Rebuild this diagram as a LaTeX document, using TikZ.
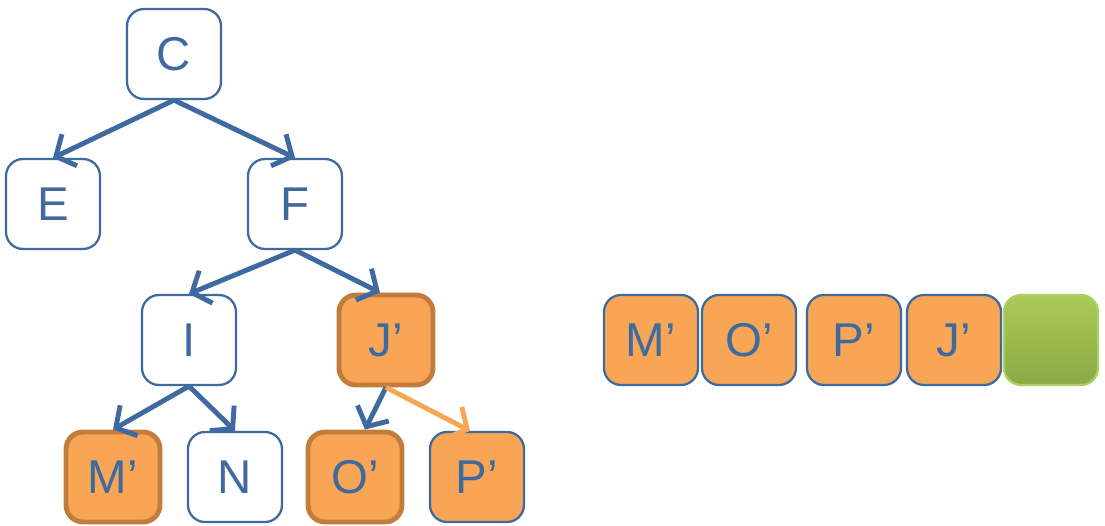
\documentclass[tikz,border=0pt]{standalone}
\usepackage{fontspec}
\setmainfont{Liberation Sans}
\usepackage{xcolor}
\usetikzlibrary{arrows.meta}
\definecolor{nodeblue}{RGB}{62,106,160}
\definecolor{patchorange}{RGB}{248,166,86}
\definecolor{patchedge}{RGB}{194,124,60}
\definecolor{freetop}{RGB}{170,202,86}
\definecolor{freebot}{RGB}{138,170,70}
\definecolor{freeedge}{RGB}{172,206,98}
\tikzset{
  treenode/.style={
    draw=nodeblue,
    line width=1.3pt,
    fill=white,
    rounded corners=0.34cm,
    minimum width=1.88cm,
    minimum height=1.80cm,
    text=nodeblue,
    font=\fontsize{27}{32}\selectfont
  },
  %newly copied node
  copied/.style={
    treenode,
    fill=patchorange
  },
  copiedthick/.style={
    copied,
    draw=patchedge,
    line width=2.8pt
  },
  freeslot/.style={
    treenode,
    draw=freeedge,
    top color=freetop,
    bottom color=freebot
  },
  edge/.style={
    draw=nodeblue,
    line width=2.8pt,
    -{Straight Barb[length=3mm,width=7mm]}
  },
  newedge/.style={
    edge,
    draw=patchorange
  }
}

\begin{document}
\begin{tikzpicture}[x=0.02cm,y=-0.02cm]
    \useasboundingbox (0,0) rectangle (1105,526);
    % tree
    \node[treenode] (C) at (174,54) {C};
    \node[treenode] (E) at (53,204) {E};
    \node[treenode] (F) at (295,204) {F};
    \node[treenode] (I) at (189,340) {I};
    \node[copiedthick] (J) at (386,340) {J’};
    \node[copiedthick] (M) at (113,477) {M’};
    \node[treenode] (N) at (235,477) {N};
    \node[copiedthick] (O) at (355,477) {O’};
    \node[copied] (P) at (477,477) {P’};
    \draw[edge] (C.south) -- (E.north);
    \draw[edge] (C.south) -- (F.north);
    \draw[edge] (F.south) -- (I.north);
    \draw[edge] (F.south) -- ([xshift=-0.12cm]J.north);
    \draw[edge] (I.south) -- (M.north);
    \draw[edge] (I.south) -- (N.north);
    \draw[edge] (J.south) -- ([xshift=0.2cm]O.north);
    \draw[newedge] (J.south) -- ([xshift=-0.14cm]P.north);
    % array
    \node[copied] (aM) at (651,340) {M’};
    \node[copied] (aO) at (749,340) {O’};
    \node[copied] (aP) at (854,340) {P’};
    \node[copied] (aJ) at (954,340) {J’};
    \node[freeslot] (aFree) at (1051,340) {};
\end{tikzpicture}
\end{document}
